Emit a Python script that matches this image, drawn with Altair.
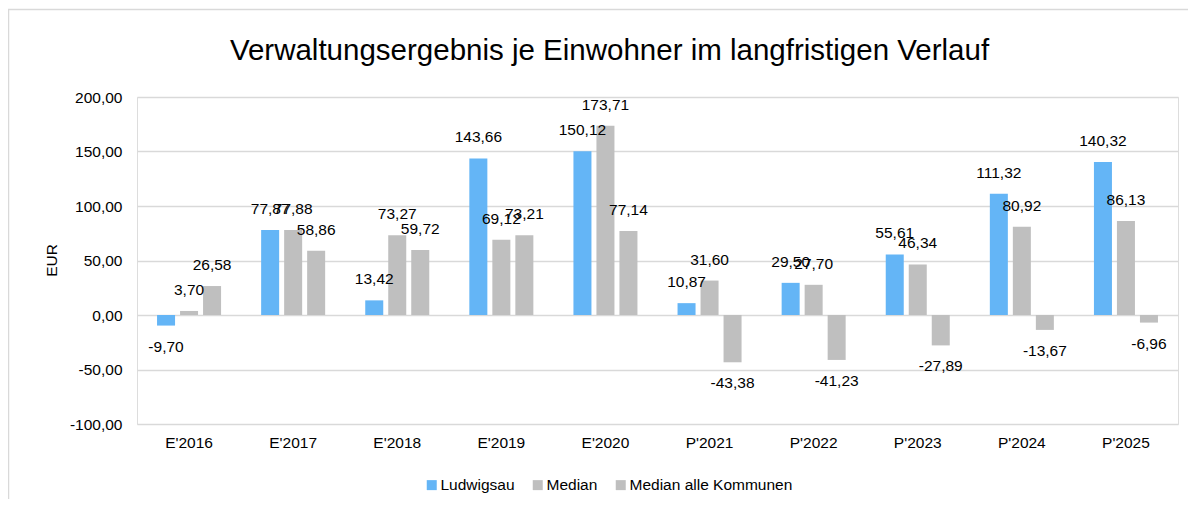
import altair as alt
import pandas as pd

categories = ["E'2016", "E'2017", "E'2018", "E'2019", "E'2020",
              "P'2021", "P'2022", "P'2023", "P'2024", "P'2025"]
series = ["Ludwigsau", "Median", "Median alle Kommunen"]
ludwigsau = [-9.70, 77.87, 13.42, 143.66, 150.12, 10.87, 29.50, 55.61, 111.32, 140.32]
median = [3.70, 77.88, 73.27, 69.12, 173.71, 31.60, 27.70, 46.34, 80.92, 86.13]
median_alle = [26.58, 58.86, 59.72, 73.21, 77.14, -43.38, -41.23, -27.89, -13.67, -6.96]
colors = ["#64B5F6", "#BFBFBF", "#BFBFBF"]
y_ticks = [-100, -50, 0, 50, 100, 150, 200]

rows = []
for s, vals in zip(series, [ludwigsau, median, median_alle]):
    for c, v in zip(categories, vals):
        rows.append({"cat": c, "series": s, "value": v,
                     "label": f"{v:.2f}".replace(".", ",")})
df = pd.DataFrame(rows)

FONT = "Liberation Sans"

x_enc = alt.X("cat:N", sort=categories,
              scale=alt.Scale(paddingInner=0.385, paddingOuter=0.1925),
              axis=alt.Axis(title=None, labelAngle=0, ticks=False, domain=False,
                            grid=False, labelFontSize=15.5, labelPadding=11,
                            labelColor="#000000", labelFont=FONT))
xo_enc = alt.XOffset("series:N", sort=series,
                     scale=alt.Scale(paddingInner=0.217, paddingOuter=0))
y_enc = alt.Y("value:Q",
              scale=alt.Scale(domain=[-100, 200], nice=False),
              axis=alt.Axis(values=y_ticks, ticks=False, domain=False,
                            labelExpr="replace(replace(format(datum.value, '.2f'), '.', ','), '\u2212', '-')",
                            labelFontSize=15.5, labelPadding=15, labelColor="#000000",
                            labelFont=FONT,
                            title="EUR", titleFontSize=15.5, titleFontWeight="normal",
                            titleColor="#000000", titleFont=FONT,
                            titleX=-86, titleY=163, titleAlign="center",
                            titleBaseline="middle", titleAngle=270,
                            gridColor="#D9D9D9", gridWidth=1.5))

base = alt.Chart(df)

bars = base.mark_bar().encode(
    x=x_enc,
    xOffset=xo_enc,
    y=y_enc,
    color=alt.Color("series:N", sort=series,
                    scale=alt.Scale(domain=series, range=colors),
                    legend=alt.Legend(orient="none", legendX=287, legendY=380,
                                      direction="horizontal", title=None,
                                      symbolType="square", symbolSize=100,
                                      symbolStrokeWidth=0, labelLimit=0,
                                      labelFontSize=15.5, labelFont=FONT,
                                      labelColor="#000000",
                                      columnPadding=15, labelOffset=1)),
)

pos_labels = base.transform_filter("datum.value >= 0").mark_text(
    dy=-21, baseline="middle", align="center", fontSize=15.5, font=FONT, color="#000000"
).encode(x=alt.X("cat:N", sort=categories), xOffset=alt.XOffset("series:N", sort=series),
         y="value:Q", text="label:N")

neg_labels = base.transform_filter("datum.value < 0").mark_text(
    dy=21, baseline="middle", align="center", fontSize=15.5, font=FONT, color="#000000"
).encode(x=alt.X("cat:N", sort=categories), xOffset=alt.XOffset("series:N", sort=series),
         y="value:Q", text="label:N")

frame_df = pd.DataFrame({"k": [0]})
top_border = alt.Chart(frame_df).mark_rule(color="#D9D9D9", strokeWidth=1.5).encode(
    x=alt.value(-129), x2=alt.value(1060), y=alt.value(-87.5))
left_border = alt.Chart(frame_df).mark_rule(color="#D9D9D9", strokeWidth=1.5).encode(
    x=alt.value(-128.5), y=alt.value(-88), y2=alt.value(420))

chart = alt.layer(top_border, left_border, bars, pos_labels, neg_labels).properties(
    width=1041, height=327,
    title=alt.TitleParams(
        text="Verwaltungsergebnis je Einwohner im langfristigen Verlauf",
        fontSize=29.5, font=FONT, fontWeight="normal", color="#000000",
        anchor="middle", frame="group", dx=-48, offset=-81.5, baseline="alphabetic"),
    autosize=alt.AutoSizeParams(type="none"),
    padding={"left": 129, "top": 89, "right": 10, "bottom": 75},
).configure_view(stroke=None).configure(background="white")

chart.save("out.html", embed_options={"renderer": "svg", "actions": False})
